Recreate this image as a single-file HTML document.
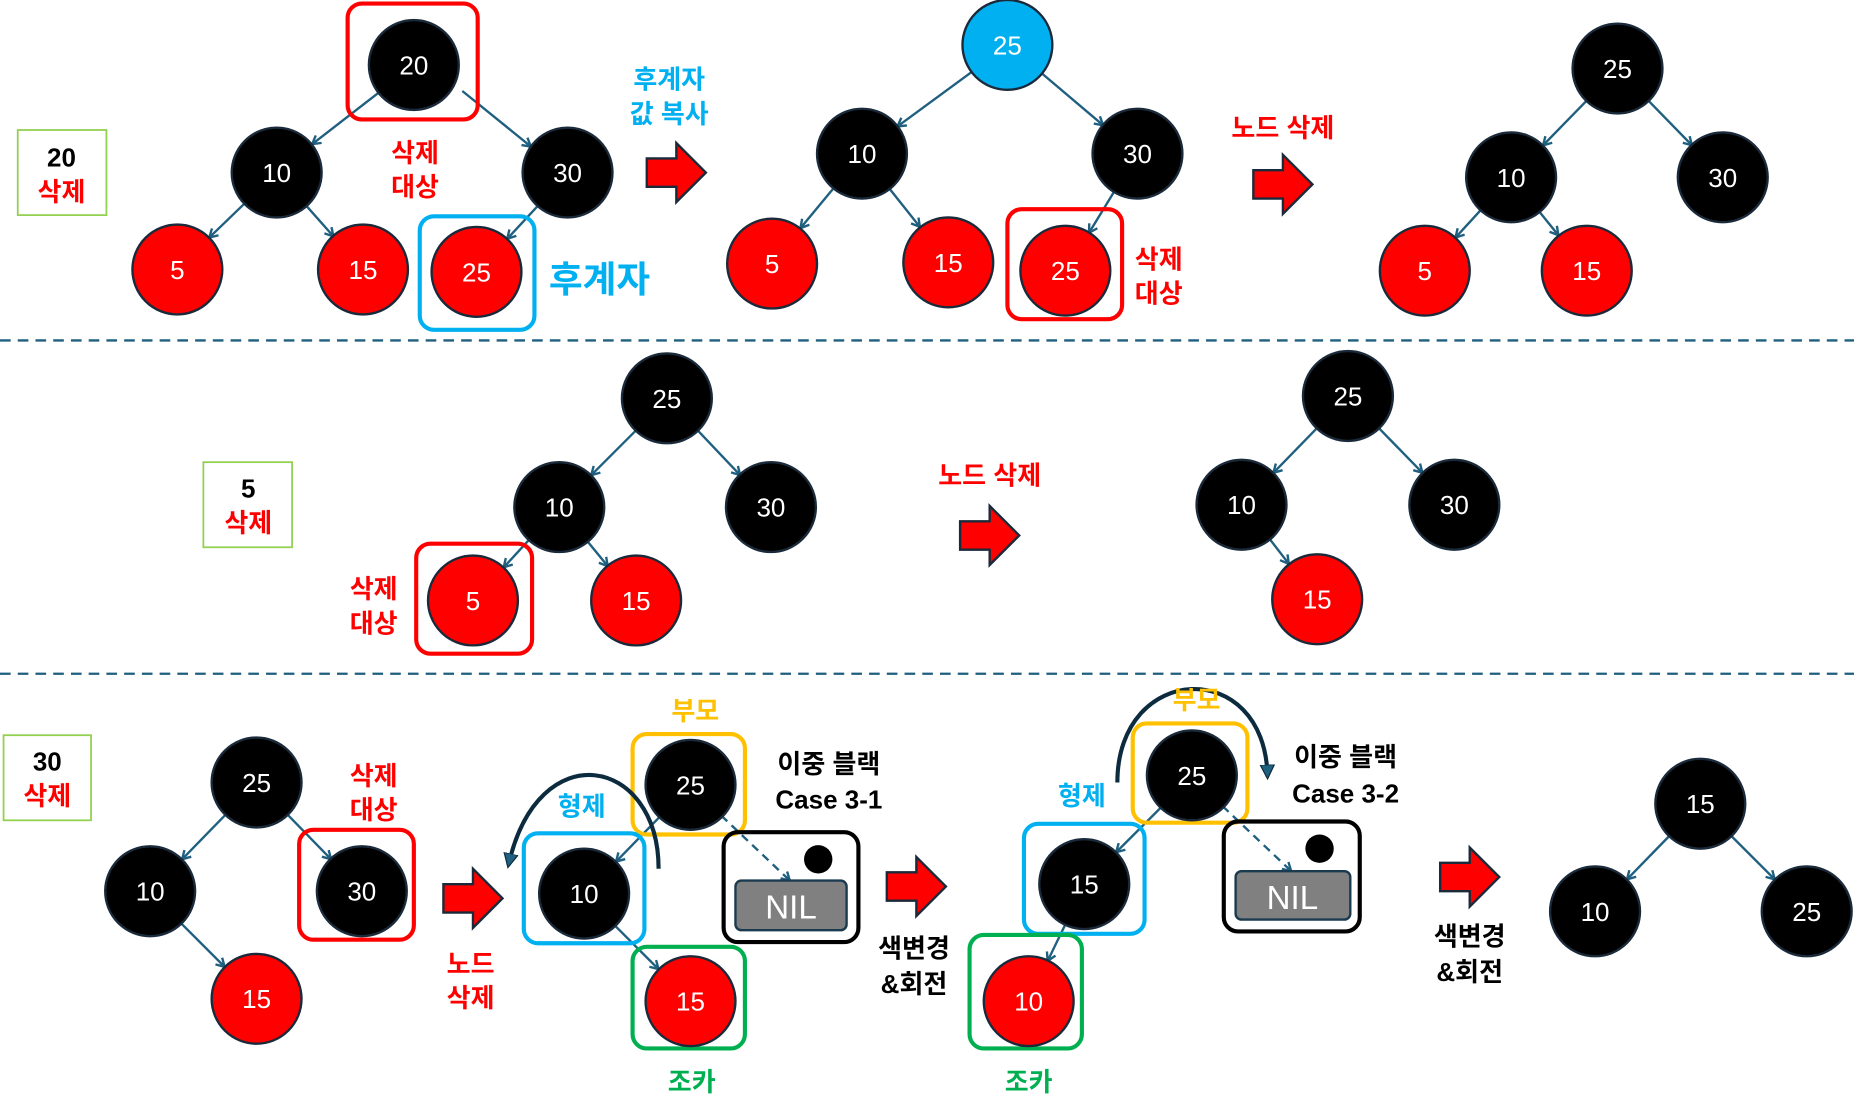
<!DOCTYPE html>
<html><head><meta charset="utf-8"><style>html,body{margin:0;padding:0;background:#fff}svg{display:block}
text{font-family:"Liberation Sans","Noto Sans CJK KR",sans-serif}
.n text{}
</style></head><body>
<svg width="1854" height="1117" viewBox="0 0 1568 945" preserveAspectRatio="none" xmlns="http://www.w3.org/2000/svg">
<defs>
<marker id="a" markerWidth="10" markerHeight="10" refX="8" refY="5" orient="auto" markerUnits="userSpaceOnUse"><path d="M1,1 L8,5 L1,9" fill="none" stroke="#1f5f7f" stroke-width="2"/></marker>
<marker id="b" markerWidth="16" markerHeight="16" refX="10" refY="8" orient="auto" markerUnits="userSpaceOnUse"><path d="M0,2 L12,8 L0,14 Z" fill="#1f5f7f" stroke="#0d2b3e"/></marker>
<g id="ar"><path d="M0,-12 H25 V-25 L50,0 L25,25 V12 H0 Z" fill="#f00" stroke="#1a2a3a" stroke-width="2"/></g>
</defs>
<g stroke="#1f5f7f" stroke-width="2" marker-end="url(#a)">
<line x1="322" y1="77" x2="264" y2="122"/><line x1="391" y1="77" x2="449" y2="124"/>
<line x1="207" y1="172" x2="177" y2="201"/><line x1="259" y1="174" x2="282" y2="200"/>
<line x1="455" y1="174" x2="429" y2="202"/>
<line x1="823" y1="60" x2="759" y2="107"/><line x1="881" y1="62" x2="933" y2="106"/>
<line x1="706" y1="158" x2="677" y2="193"/><line x1="751" y1="158" x2="778" y2="192"/>
<line x1="943" y1="161" x2="921" y2="197"/>
<line x1="1343" y1="84" x2="1305" y2="123"/><line x1="1393" y1="84" x2="1431" y2="123"/>
<line x1="1253" y1="177" x2="1231" y2="201"/><line x1="1301" y1="178" x2="1318" y2="199"/>
<line x1="539" y1="363" x2="500" y2="402"/><line x1="589" y1="363" x2="626" y2="402"/>
<line x1="449" y1="455" x2="426" y2="480"/><line x1="496" y1="457" x2="514" y2="479"/>
<line x1="1115" y1="361" x2="1077" y2="400"/><line x1="1165" y1="361" x2="1203" y2="400"/>
<line x1="1073" y1="455" x2="1090" y2="477"/>
<line x1="192" y1="688" x2="154" y2="727"/><line x1="242" y1="688" x2="280" y2="727"/>
<line x1="152" y1="780" x2="190" y2="818"/>
<line x1="559" y1="690" x2="521" y2="729"/><line x1="519" y1="782" x2="557" y2="820"/>
<line x1="610" y1="690" x2="668" y2="745" stroke-dasharray="7,5"/>
<line x1="983" y1="682" x2="944" y2="721"/><line x1="902" y1="780" x2="886" y2="813"/>
<line x1="1034" y1="682" x2="1092" y2="737" stroke-dasharray="7,5"/>
<line x1="1413" y1="706" x2="1376" y2="744"/><line x1="1463" y1="706" x2="1501" y2="744"/>
</g>
<g stroke="#1f5f7f" stroke-width="2" stroke-dasharray="9,6"><line x1="0" y1="288" x2="1568" y2="288"/><line x1="0" y1="570" x2="1568" y2="570"/></g>
<g fill="none" stroke-width="3.5">
<rect x="294" y="3" width="110" height="98" rx="12" stroke="#f00"/>
<rect x="355" y="183" width="97" height="96" rx="12" stroke="#00b0f0"/>
<rect x="852" y="177" width="97" height="93" rx="12" stroke="#f00"/>
<rect x="352" y="460" width="98" height="93" rx="12" stroke="#f00"/>
<rect x="253" y="702" width="97" height="93" rx="12" stroke="#f00"/>
<rect x="535" y="621" width="95" height="85" rx="12" stroke="#ffc000"/>
<rect x="443" y="705" width="102" height="93" rx="12" stroke="#00b0f0"/>
<rect x="535" y="801" width="95" height="86" rx="12" stroke="#00b050"/>
<rect x="612" y="704" width="114" height="93" rx="12" stroke="#000"/>
<rect x="958" y="612" width="97" height="84" rx="12" stroke="#ffc000"/>
<rect x="866" y="697" width="102" height="93" rx="12" stroke="#00b0f0"/>
<rect x="820" y="791" width="95" height="96" rx="12" stroke="#00b050"/>
<rect x="1035" y="695" width="115" height="93" rx="12" stroke="#000"/>
</g>
<g fill="none" stroke="#92d050" stroke-width="1.5">
<rect x="15" y="110" width="75" height="72"/><rect x="172" y="391" width="75" height="72"/><rect x="3" y="622" width="74" height="72"/>
</g>
<g stroke="#1a3a4f" stroke-width="2">
<rect x="622" y="745" width="94" height="42" rx="5" fill="#808080"/><rect x="1045" y="737" width="97" height="41" rx="5" fill="#808080"/>
<circle cx="692" cy="727" r="12" fill="#000" stroke="none"/><circle cx="1116" cy="718" r="12" fill="#000" stroke="none"/>
</g>
<g font-size="28" fill="#fff" text-anchor="middle"><text x="669" y="777">NIL</text><text x="1093" y="769">NIL</text></g>
<g fill="none" stroke="#0d2b3e" stroke-width="3.5" marker-end="url(#b)">
<path d="M557,735 C557,640 455,620 430,732"/>
<path d="M945,662 C945,560 1070,555 1072,657"/>
</g>
<g stroke="#1a2a3a" stroke-width="2">
<g fill="#000">
<circle cx="350" cy="55" r="38"/><circle cx="234" cy="146" r="38"/><circle cx="480" cy="146" r="38"/>
<circle cx="729" cy="130" r="38"/><circle cx="962" cy="130" r="38"/>
<circle cx="1368" cy="58" r="38"/><circle cx="1278" cy="150" r="38"/><circle cx="1457" cy="150" r="38"/>
<circle cx="564" cy="337" r="38"/><circle cx="473" cy="429" r="38"/><circle cx="652" cy="429" r="38"/>
<circle cx="1140" cy="335" r="38"/><circle cx="1050" cy="427" r="38"/><circle cx="1230" cy="427" r="38"/>
<circle cx="217" cy="662" r="38"/><circle cx="127" cy="754" r="38"/><circle cx="306" cy="754" r="38"/>
<circle cx="584" cy="664" r="38"/><circle cx="494" cy="756" r="38"/>
<circle cx="1008" cy="656" r="38"/><circle cx="917" cy="748" r="38"/>
<circle cx="1438" cy="680" r="38"/><circle cx="1349" cy="771" r="38"/><circle cx="1528" cy="771" r="38"/>
</g>
<g fill="#f00">
<circle cx="150" cy="228" r="38"/><circle cx="307" cy="228" r="38"/><circle cx="403" cy="230" r="38"/>
<circle cx="653" cy="223" r="38"/><circle cx="802" cy="222" r="38"/><circle cx="901" cy="229" r="38"/>
<circle cx="1205" cy="229" r="38"/><circle cx="1342" cy="229" r="38"/>
<circle cx="400" cy="508" r="38"/><circle cx="538" cy="508" r="38"/><circle cx="1114" cy="507" r="38"/>
<circle cx="217" cy="845" r="38"/><circle cx="584" cy="847" r="38"/><circle cx="870" cy="847" r="38"/>
</g>
<circle cx="852" cy="38" r="38" fill="#00b0f0"/>
</g>
<g font-size="22" fill="#fff" text-anchor="middle">
<text x="350" y="63">20</text><text x="234" y="154">10</text><text x="480" y="154">30</text>
<text x="150" y="236">5</text><text x="307" y="236">15</text><text x="403" y="238">25</text>
<text x="852" y="46">25</text><text x="729" y="138">10</text><text x="962" y="138">30</text>
<text x="653" y="231">5</text><text x="802" y="230">15</text><text x="901" y="237">25</text>
<text x="1368" y="66">25</text><text x="1278" y="158">10</text><text x="1457" y="158">30</text>
<text x="1205" y="237">5</text><text x="1342" y="237">15</text>
<text x="564" y="345">25</text><text x="473" y="437">10</text><text x="652" y="437">30</text>
<text x="400" y="516">5</text><text x="538" y="516">15</text>
<text x="1140" y="343">25</text><text x="1050" y="435">10</text><text x="1230" y="435">30</text><text x="1114" y="515">15</text>
<text x="217" y="670">25</text><text x="127" y="762">10</text><text x="306" y="762">30</text><text x="217" y="853">15</text>
<text x="584" y="672">25</text><text x="494" y="764">10</text><text x="584" y="855">15</text>
<text x="1008" y="664">25</text><text x="917" y="756">15</text><text x="870" y="855">10</text>
<text x="1438" y="688">15</text><text x="1349" y="779">10</text><text x="1528" y="779">25</text>
</g>
<use href="#ar" x="547" y="146"/><use href="#ar" x="1060" y="156"/><use href="#ar" x="812" y="453"/>
<use href="#ar" x="375" y="760"/><use href="#ar" x="750" y="750"/><use href="#ar" x="1218" y="742"/>
<g font-size="22" font-weight="bold" text-anchor="middle">
<text x="52" y="141" fill="#000">20</text><text x="52" y="170" fill="#f00">삭제</text>
<text x="210" y="421" fill="#000">5</text><text x="210" y="450" fill="#f00">삭제</text>
<text x="40" y="652" fill="#000">30</text><text x="40" y="681" fill="#f00">삭제</text>
<g fill="#f00">
<text x="351" y="137">삭제</text><text x="351" y="166">대상</text>
<text x="980" y="227">삭제</text><text x="980" y="256">대상</text>
<text x="316" y="506">삭제</text><text x="316" y="535">대상</text>
<text x="316" y="664">삭제</text><text x="316" y="693">대상</text>
<text x="1085" y="116">노드 삭제</text><text x="837" y="410">노드 삭제</text>
<text x="398" y="823">노드</text><text x="398" y="852">삭제</text>
</g>
<g fill="#00b0f0">
<text x="566" y="75">후계자</text><text x="566" y="104">값 복사</text>
<text x="507" y="247" font-size="31">후계자</text>
<text x="492" y="690">형제</text><text x="915" y="681">형제</text>
</g>
<g fill="#ffc000"><text x="588" y="609">부모</text><text x="1012" y="600">부모</text></g>
<g fill="#00b050"><text x="585" y="923">조카</text><text x="870" y="923">조카</text></g>
<g fill="#000">
<text x="701" y="654">이중 블랙</text><text x="701" y="684">Case 3-1</text>
<text x="1138" y="648">이중 블랙</text><text x="1138" y="679">Case 3-2</text>
<text x="773" y="810">색변경</text><text x="773" y="840">&amp;회전</text>
<text x="1243" y="800">색변경</text><text x="1243" y="830">&amp;회전</text>
</g>
</g>
</svg>
</body></html>
